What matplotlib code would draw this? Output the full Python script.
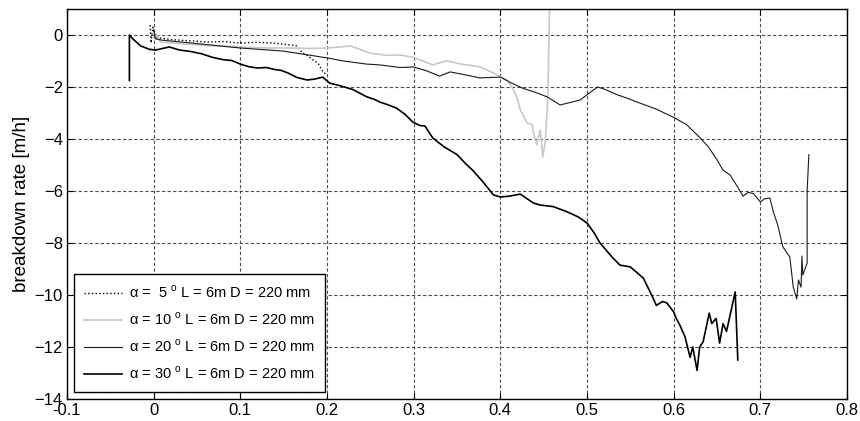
import numpy as np
import matplotlib
matplotlib.use('Agg')
from matplotlib import pyplot as plt

plt.rcParams['font.family'] = ['Liberation Sans', 'DejaVu Sans']
plt.rcParams['mathtext.fontset'] = 'custom'
plt.rcParams['mathtext.rm'] = 'Liberation Sans'

# alpha = 5 deg
x5 = [-0.004, -0.003, -0.001, 0.002, 0.004, 0.02, 0.04, 0.062, 0.08, 0.1, 0.12,
      0.138, 0.157, 0.165, 0.172, 0.178, 0.184, 0.19, 0.195, 0.2]
y5 = [0.38, -0.3, 0.3, -0.05, -0.1, -0.18, -0.22, -0.27, -0.25, -0.31, -0.28,
      -0.31, -0.38, -0.42, -0.7, -0.8, -0.96, -1.1, -1.4, -1.55]

# alpha = 10 deg
x10 = [0.003, 0.008, 0.03, 0.06, 0.1, 0.13, 0.157, 0.18, 0.2, 0.215, 0.227, 0.25,
       0.27, 0.284, 0.3, 0.322, 0.338, 0.355, 0.376, 0.392, 0.408, 0.415, 0.419,
       0.423, 0.431, 0.437, 0.438, 0.442, 0.446, 0.449, 0.452, 0.455, 0.457]
y10 = [0.05, -0.27, -0.33, -0.4, -0.46, -0.5, -0.5, -0.52, -0.5, -0.46, -0.42, -0.7,
       -0.78, -0.77, -0.86, -1.15, -0.99, -1.12, -1.22, -1.46, -1.73, -2.1, -2.38,
       -2.88, -3.38, -3.46, -3.73, -4.23, -3.65, -4.7, -4.04, -2.2, 1.5]

# alpha = 20 deg
x20 = [0.0, 0.002, 0.01, 0.05, 0.1, 0.15, 0.2, 0.219, 0.246, 0.261, 0.284, 0.3,
       0.315, 0.33, 0.342, 0.361, 0.376, 0.4, 0.413, 0.426, 0.44, 0.454, 0.469,
       0.48, 0.492, 0.502, 0.512, 0.52, 0.535, 0.548, 0.561, 0.58, 0.6, 0.615,
       0.63, 0.64, 0.65, 0.657, 0.665, 0.673, 0.68, 0.686, 0.692, 0.7, 0.705,
       0.711, 0.715, 0.72, 0.726, 0.734, 0.738, 0.742, 0.744, 0.747, 0.748,
       0.749, 0.754, 0.754, 0.756]
y20 = [0.2, -0.15, -0.2, -0.33, -0.5, -0.62, -0.88, -1.0, -1.12, -1.15, -1.25, -1.23,
       -1.38, -1.58, -1.42, -1.54, -1.65, -1.62, -1.85, -2.05, -2.2, -2.38, -2.69,
       -2.6, -2.5, -2.25, -2.0, -2.08, -2.3, -2.45, -2.62, -2.85, -3.17, -3.45,
       -3.94, -4.3, -4.8, -5.2, -5.38, -5.8, -6.2, -6.05, -6.1, -6.42, -6.3,
       -6.27, -6.8, -7.3, -8.15, -8.54, -9.7, -10.15, -9.42, -9.7, -8.5,
       -9.23, -8.77, -6.0, -4.6]

# alpha = 30 deg
x30 = [-0.028, -0.028, -0.024, -0.015, -0.005, 0.002, 0.01, 0.018, 0.03, 0.042,
       0.055, 0.068, 0.08, 0.09, 0.1, 0.11, 0.12, 0.13, 0.14, 0.147, 0.155, 0.165,
       0.177, 0.185, 0.195, 0.203, 0.215, 0.23, 0.246, 0.255, 0.261, 0.27, 0.28,
       0.29, 0.299, 0.307, 0.313, 0.322, 0.335, 0.35, 0.36, 0.368, 0.38, 0.392,
       0.4, 0.41, 0.423, 0.438, 0.446, 0.461, 0.477, 0.49, 0.5, 0.508, 0.515,
       0.53, 0.538, 0.55, 0.565, 0.576, 0.58, 0.587, 0.592, 0.6, 0.603, 0.607,
       0.613, 0.619, 0.622, 0.627, 0.63, 0.634, 0.641, 0.644, 0.649, 0.653,
       0.657, 0.661, 0.671, 0.674]
y30 = [-1.75, 0.0, -0.15, -0.42, -0.55, -0.58, -0.52, -0.46, -0.58, -0.63,
       -0.72, -0.86, -0.95, -0.98, -1.12, -1.22, -1.27, -1.25, -1.33, -1.36, -1.46, -1.63,
       -1.73, -1.7, -1.62, -1.85, -1.95, -2.1, -2.38, -2.48, -2.58, -2.68, -2.81,
       -3.05, -3.35, -3.48, -3.5, -3.96, -4.3, -4.6, -4.95, -5.2, -5.65, -6.15,
       -6.23, -6.2, -6.12, -6.46, -6.54, -6.6, -6.8, -7.0, -7.23, -7.6, -8.0,
       -8.58, -8.85, -8.92, -9.35, -10.1, -10.4, -10.25, -10.3, -10.65, -10.9, -11.15,
       -11.6, -12.4, -12.0, -12.9, -12.0, -11.8, -10.7, -11.1, -10.9, -11.85,
       -11.1, -11.4, -9.88, -12.5]

labels = [r'α =  5 $^{\rm o}$ L = 6m D = 220 mm',
          r'α = 10 $^{\rm o}$ L = 6m D = 220 mm',
          r'α = 20 $^{\rm o}$ L = 6m D = 220 mm',
          r'α = 30 $^{\rm o}$ L = 6m D = 220 mm']

fig = plt.figure(figsize=(8.6, 4.21), dpi=100)
ax = fig.add_axes([67/860, 22/421, 780/860, 390/421])

ax.plot(x5, y5, color='black', ls=':', lw=1.0, label=labels[0])
ax.plot(x10, y10, color='#c8c8c8', lw=1.2, label=labels[1])
ax.plot(x20, y20, color='#1a1a1a', lw=0.8, label=labels[2])
ax.plot(x30, y30, color='black', lw=1.2, label=labels[3])

ax.set_xlim(-0.1, 0.8)
ax.set_ylim(-14, 1)
ax.set_xticks(np.arange(-0.1, 0.81, 0.1))
ax.set_xticklabels(['-0.1', '0', '0.1', '0.2', '0.3', '0.4', '0.5', '0.6', '0.7', '0.8'])
ax.set_yticks(np.arange(-14, 1, 2))
ax.tick_params(direction='in', top=True, right=True, length=4, labelsize=12, pad=3)
ax.grid(True, color='0.3', ls=(0, (3, 2)), lw=0.8)
for s in ax.spines.values():
    s.set_linewidth(1.0)

ax.set_ylabel('breakdown rate [m/h]', fontsize=13.5, labelpad=3)

leg = ax.legend(loc='lower left', bbox_to_anchor=(0.009, 0.018), borderaxespad=0,
                fontsize=10.5, fancybox=False, framealpha=1, edgecolor='black',
                handlelength=2.6, handletextpad=0.45, labelspacing=0.7,
                borderpad=0.7)
leg.get_frame().set_linewidth(1.0)

plt.savefig('out.png', dpi=100)
